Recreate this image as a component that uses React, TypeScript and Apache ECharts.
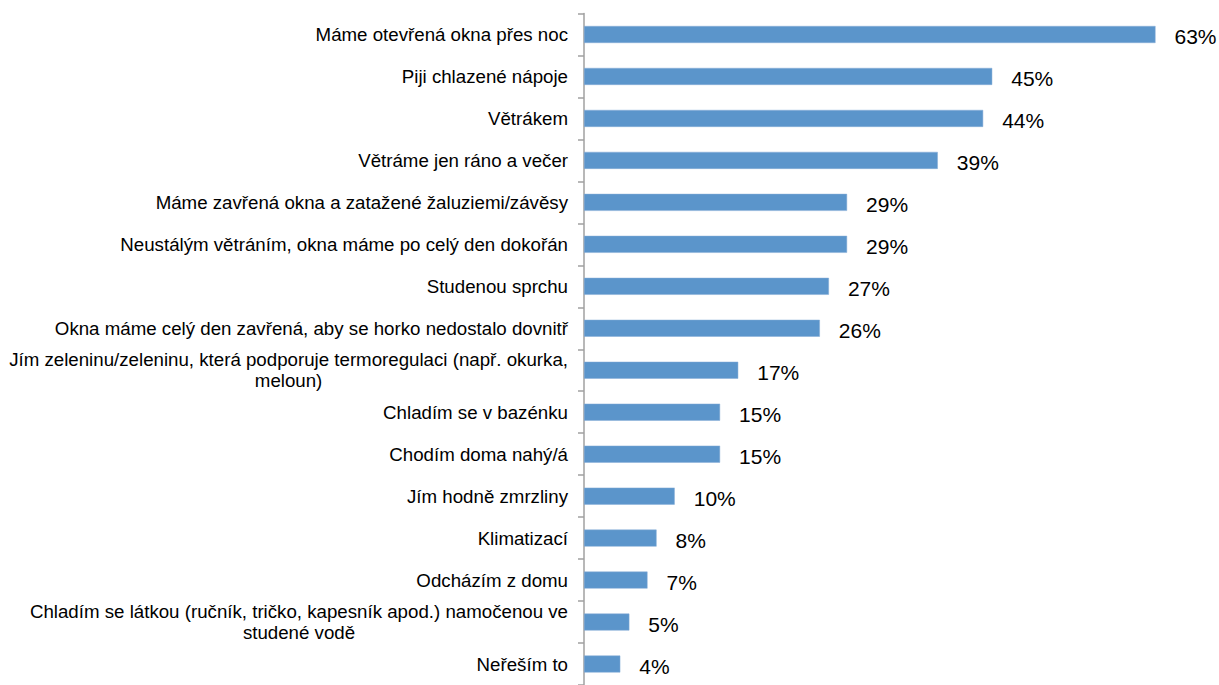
import React, { useEffect, useRef } from "react";
import * as echarts from "echarts";

const categories: string[] = [
  "Máme otevřená okna přes noc",
  "Piji chlazené nápoje",
  "Větrákem",
  "Větráme jen ráno a večer",
  "Máme zavřená okna a zatažené žaluziemi/závěsy",
  "Neustálým větráním, okna máme po celý den dokořán",
  "Studenou sprchu",
  "Okna máme celý den zavřená, aby se horko nedostalo dovnitř",
  "Jím zeleninu/zeleninu, která podporuje termoregulaci (např. okurka, meloun)",
  "Chladím se v bazénku",
  "Chodím doma nahý/á",
  "Jím hodně zmrzliny",
  "Klimatizací",
  "Odcházím z domu",
  "Chladím se látkou (ručník, tričko, kapesník apod.) namočenou ve studené vodě",
  "Neřeším to",
];

const values: number[] = [63, 45, 44, 39, 29, 29, 27, 26, 17, 15, 15, 10, 8, 7, 5, 4];

const FONT = '"Liberation Sans", Arial, sans-serif';
const CAT_SIZE = 18.7;
const MAX_LABEL_W = 565;

function wrapLabel(text: string): string {
  const canvas = document.createElement("canvas");
  const ctx = canvas.getContext("2d");
  if (!ctx) return text;
  ctx.font = `${CAT_SIZE}px ${FONT}`;
  const words = text.split(" ");
  const lines: string[] = [];
  let cur = "";
  for (const w of words) {
    const test = cur ? cur + " " + w : w;
    if (ctx.measureText(test).width > MAX_LABEL_W && cur) {
      lines.push(cur);
      cur = w;
    } else {
      cur = test;
    }
  }
  if (cur) lines.push(cur);
  if (lines.length === 1) return lines[0];
  return lines[0] + "\n" + lines.slice(1).map((l) => `{c|${l}}`).join("\n");
}

export default function App() {
  const ref = useRef<HTMLDivElement>(null);
  useEffect(() => {
    document.body.style.margin = "0";
    if (!ref.current) return;
    const chart = echarts.init(ref.current, undefined, { renderer: "svg" });
    chart.setOption({
      animation: false,
      backgroundColor: "#ffffff",
      grid: { left: 584, top: 13.5, width: 637, height: 681, containLabel: false },
      xAxis: {
        type: "value",
        min: 0,
        max: 70,
        show: false,
        splitLine: { show: false },
      },
      yAxis: {
        type: "category",
        data: categories,
        inverse: true,
        axisLine: { show: true, lineStyle: { color: "#a0a0a0", width: 1.5 } },
        axisTick: { show: true, length: 6, lineStyle: { color: "#a0a0a0", width: 1.5 } },
        axisLabel: {
          margin: 16,
          color: "#000000",
          fontFamily: FONT,
          fontSize: CAT_SIZE,
          lineHeight: 21,
          align: "right",
          formatter: (v: string) => wrapLabel(v),
          rich: {
            c: { align: "center", fontFamily: FONT, fontSize: CAT_SIZE, color: "#000000", lineHeight: 21 },
          },
        },
      },
      series: [
        {
          type: "bar",
          data: values,
          barWidth: 17,
          itemStyle: { color: "#5b95cb", borderColor: "#86acd6", borderWidth: 0.5 },
          label: {
            show: true,
            position: "right",
            distance: 19,
            offset: [0, 2],
            formatter: (p: any) => `${p.value}%`,
            fontFamily: FONT,
            fontSize: 21,
            color: "#000000",
          },
        },
      ],
    });
    return () => chart.dispose();
  }, []);
  return <div ref={ref} style={{ width: 1219, height: 685 }} />;
}
